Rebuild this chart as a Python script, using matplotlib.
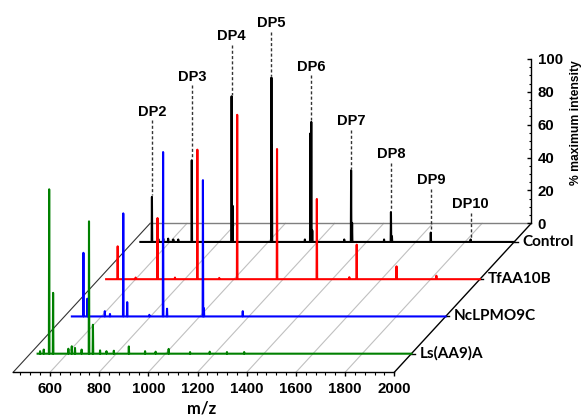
import numpy as np
import matplotlib
matplotlib.use("Agg")
import matplotlib.pyplot as plt
from matplotlib.transforms import Affine2D
from matplotlib.ticker import FixedLocator

# ---------------- data ----------------
series_names = ["Ls(AA9)A", "NcLPMO9C", "TfAA10B", "Control"]
series_colors = ["#008000", "#0000ff", "#ff0000", "#000000"]

green_mz = [490, 505, 527, 543, 605, 619, 632, 659, 689, 705, 734, 760, 790, 851, 917, 960, 1013, 1100, 1180, 1250, 1320]
green_h  = [1.5, 2.5, 100, 37, 3, 4.5, 3.5, 2.5, 80.5, 17.6, 2, 1.5, 1.8, 4.4, 1.5, 1.2, 2.9, 1, 1.2, 1, 1]

blue_mz = [527, 543, 614, 635, 689, 705, 795, 851, 867, 1013, 1017, 1175]
blue_h  = [38.7, 10.8, 3.2, 1.5, 62.7, 8.7, 1, 100, 4.7, 82.9, 5, 3.2]

red_mz = [527, 600, 689, 760, 851, 940, 1013, 1175, 1337, 1469, 1499, 1661, 1823]
red_h  = [20, 1, 37.2, 1, 78.8, 0.8, 100, 79.2, 48.8, 1.2, 21, 7.8, 2.1]

ctrl_mz = [527, 553, 573, 593, 614, 634, 689, 851, 855, 1013, 1015, 1149, 1171, 1175, 1179,
           1309, 1337, 1341, 1471, 1499, 1503, 1661, 1823]
ctrl_h  = [27.4, 1.8, 2, 2, 1.5, 1.5, 49.7, 88.6, 22, 100, 59, 1.5, 66, 73, 7,
           1.5, 43.6, 11.6, 1.5, 18.2, 3.5, 5.7, 1.5]

dp_labels = ["DP2", "DP3", "DP4", "DP5", "DP6", "DP7", "DP8", "DP9", "DP10"]
dp_mz     = [527, 689, 851, 1013, 1175, 1337, 1499, 1661, 1823]
dp_peak   = [27.4, 49.7, 88.6, 100, 73, 43.6, 18.2, 5.7, 1.5]
dp_label_y = [78.9, 100.2, 125.1, 133, 106.4, 73.4, 53.3, 37.5, 22.9]

x_major = [600, 800, 1000, 1200, 1400, 1600, 1800, 2000]
y_major = [0, 20, 40, 60, 80, 100]

spec_start, spec_end = 480, 2000
floor_start, floor_end = 450, 2000

# ---------------- layout ----------------
DMZ = 139.3     # m/z shift per depth unit
DY = 22.66      # intensity shift per depth unit
NDEPTH = 4
XLIM = (396.7, 2771.6)
YLIM = (-25.97, 226.5)

BOLD_ARIAL = dict(family="Liberation Sans", fontweight="bold")
BOLD_CAL = dict(family="Lato", fontweight="bold")

fig = plt.figure(figsize=(5.84, 4.15), dpi=100)
ax = fig.add_axes([0, 0, 1, 1])
ax.set_xlim(*XLIM)
ax.set_ylim(*YLIM)
ax.patch.set_visible(False)
for s in ["top", "right", "left"]:
    ax.spines[s].set_visible(False)
ax.yaxis.set_visible(False)
ax.spines["bottom"].set_position(("data", 0))
ax.spines["bottom"].set_bounds(floor_start, floor_end)
ax.spines["bottom"].set_linewidth(1.0)
ax.xaxis.set_major_locator(FixedLocator(x_major))
ax.xaxis.set_minor_locator(FixedLocator(list(range(480, 2001, 40))))
ax.tick_params(axis="x", which="major", direction="out", length=3.2, width=1, pad=3.5)
ax.tick_params(axis="x", which="minor", direction="out", length=1.8, width=0.8)
ax.set_xticks(x_major)
ax.set_xticklabels([str(v) for v in x_major], fontsize=10.8, **BOLD_ARIAL)


def depth_tr(d):
    return Affine2D().translate(d * DMZ, d * DY) + ax.transData


# floor
back = depth_tr(NDEPTH)
for m in x_major[:-1]:
    ax.plot([m, m + NDEPTH * DMZ], [0, NDEPTH * DY], color="#c0c0c0", lw=0.8, zorder=1)
ax.plot([floor_start, floor_start + NDEPTH * DMZ], [0, NDEPTH * DY], color="#333333", lw=0.8, zorder=1)
ax.plot([floor_end, floor_end + NDEPTH * DMZ], [0, NDEPTH * DY], color="#000000", lw=1.0, zorder=1)
ax.plot([floor_start, floor_end], [0, 0], color="#7f7f7f", lw=1.0, transform=back, zorder=1)


def spectrum(mz, h, half=1.2):
    order = np.argsort(mz)
    xs, ys = [spec_start], [0.0]
    for i in order:
        xs += [mz[i] - half, mz[i], mz[i] + half]
        ys += [0.0, h[i], 0.0]
    xs.append(spec_end)
    ys.append(0.0)
    return np.array(xs), np.array(ys)


all_mz = [green_mz, blue_mz, red_mz, ctrl_mz]
all_h = [green_h, blue_h, red_h, ctrl_h]

# draw back to front
for i in reversed(range(4)):
    d = i + 0.5
    xs, ys = spectrum(all_mz[i], all_h[i])
    ax.plot(xs, ys, color=series_colors[i], lw=1.5, solid_joinstyle="round",
            transform=depth_tr(d), zorder=3 + (4 - i))
    ax.plot([floor_end, floor_end + 14], [0, 0], color="black", lw=1.0,
            transform=depth_tr(d), zorder=2)
    ax.annotate(series_names[i], xy=(floor_end, 0), xycoords=depth_tr(d),
                xytext=(6.0, 0), textcoords="offset points", ha="left", va="center",
                fontsize=11, **BOLD_CAL)

# DP labels with dashed leaders
ctrl_tr = depth_tr(3.5)
for lab, m, pk, ly in zip(dp_labels, dp_mz, dp_peak, dp_label_y):
    ax.plot([m, m], [ly - 5.0, pk + 1.0], color="#333333", lw=1.0,
            linestyle=(0, (2.2, 1.6)), transform=ctrl_tr, zorder=2)
    ax.text(m, ly, lab, transform=ctrl_tr, ha="center", va="center",
            fontsize=10.5, **BOLD_ARIAL)

# vertical intensity axis (back right corner)
ax2 = fig.add_axes([0, 0, 1, 1])
ax2.set_xlim(*XLIM)
ax2.set_ylim(YLIM[0] - NDEPTH * DY, YLIM[1] - NDEPTH * DY)
ax2.patch.set_visible(False)
for s in ["top", "bottom", "left"]:
    ax2.spines[s].set_visible(False)
ax2.xaxis.set_visible(False)
ax2.spines["right"].set_position(("data", floor_end + NDEPTH * DMZ))
ax2.spines["right"].set_bounds(0, 100)
ax2.spines["right"].set_linewidth(1.0)
ax2.yaxis.set_ticks_position("right")
ax2.yaxis.set_minor_locator(FixedLocator(list(range(0, 101, 5))))
ax2.set_yticks(y_major)
ax2.set_yticklabels([str(v) for v in y_major], fontsize=10.8, **BOLD_ARIAL)
ax2.tick_params(axis="y", which="major", direction="in", length=3.2, width=1, pad=4.5)
ax2.tick_params(axis="y", which="minor", direction="in", length=1.8, width=0.8)

fig.text(576 / 584, 1 - 123 / 415, "% maximum intensity", rotation=90,
         ha="center", va="center", fontsize=8.7, **BOLD_ARIAL)
fig.text(202 / 584, 1 - 408 / 415, "m/z", ha="center", va="center",
         fontsize=12, **BOLD_CAL)

fig.savefig("out.png", dpi=100)
